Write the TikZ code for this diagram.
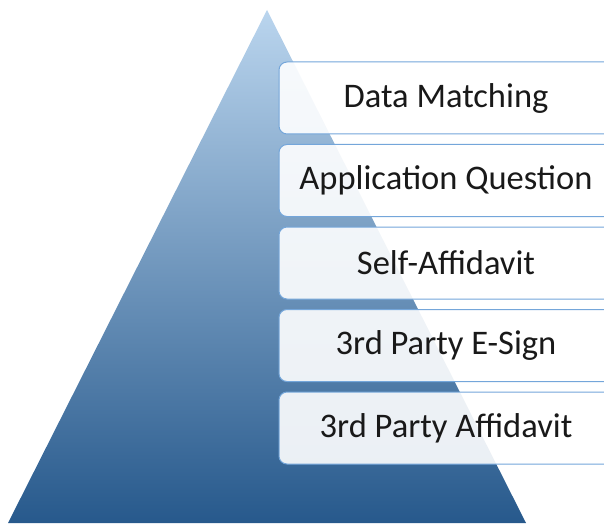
\documentclass[tikz,border=0pt]{standalone}
\usepackage{fontspec}
\setmainfont{Carlito}
\begin{document}
\begin{tikzpicture}[x=1pt,y=1pt,
  tier/.style={draw=boxline, line width=1pt, fill=white, fill opacity=0.9, rounded corners=8pt},
  tiertext/.style={text=black!90, font=\fontsize{34.5}{40}\selectfont, anchor=center, inner sep=0pt}]
\definecolor{boxline}{HTML}{74A6DA}
\definecolor{pyrtop}{HTML}{BAD5EE}
\definecolor{pyrmid}{HTML}{6A9BCD}
\definecolor{pyrbot}{HTML}{27598C}
\useasboundingbox (0,0) rectangle (604,523);
\clip (0,0) rectangle (604,523);
\shade[top color=pyrtop, middle color=pyrmid, bottom color=pyrbot] (267,513) -- (526,0) -- (8,0) -- cycle;
\foreach \t/\name/\lab in {461/b1/{Data Matching},378.5/b2/{Application Question},296/b3/{Self-Affidavit},213.5/b4/{3rd Party E-Sign},131/b5/{3rd Party Affidavit}}{
  \draw[tier] (279,\t) rectangle (614,\t-72);
  \node[tiertext] (\name) at (446,\t-36) {\lab};
}
\end{tikzpicture}
\end{document}
